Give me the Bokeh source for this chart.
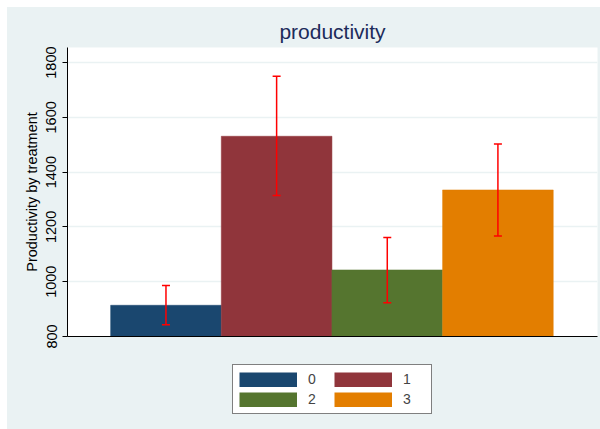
from bokeh.plotting import figure
from bokeh.layouts import column
from bokeh.models import (ColumnDataSource, Range1d, FixedTicker, Whisker, TeeHead,
                          Legend, LegendItem)
from bokeh.embed import file_html
from bokeh.resources import INLINE

# ---- data ----
treatment = ["0", "1", "2", "3"]
positions = [0, 1, 2, 3]
means = [914, 1531, 1043, 1335]
lower = [843, 1315, 923, 1167]
upper = [986, 1750, 1161, 1503]
colors = ["#1A476F", "#90353B", "#55752F", "#E37E00"]
y_ticks = [800, 1000, 1200, 1400, 1600, 1800]

BG = "#EAF2F3"
FONT = "Liberation Sans"

src = ColumnDataSource(dict(x=positions, top=means, lower=lower, upper=upper,
                            color=colors, label=treatment))

p = figure(width=593, height=343, output_backend="svg", toolbar_location=None,
           x_range=Range1d(-0.89, 3.9), y_range=Range1d(800, 1855),
           min_border_left=60, min_border_right=3, min_border_top=40,
           min_border_bottom=14)
p.background_fill_color = "white"
p.border_fill_color = BG
p.outline_line_color = None

p.vbar(x="x", top="top", bottom=800, width=1.0, fill_color="color",
       line_color="color", line_width=0.5, source=src)

wh = Whisker(source=src, base="x", upper="upper", lower="lower", dimension="height",
             line_color="#FF0000", line_width=1.5, level="overlay",
             upper_head=TeeHead(size=8, line_color="#FF0000", line_width=1.5),
             lower_head=TeeHead(size=8, line_color="#FF0000", line_width=1.5))
p.add_layout(wh)

# title
p.title.text = "productivity"
p.title.align = "center"
p.title.text_font = FONT
p.title.text_font_size = "21px"
p.title.text_font_style = "normal"
p.title.text_color = "#1C2B5A"

# axes
p.yaxis.ticker = FixedTicker(ticks=y_ticks)
p.yaxis.axis_label = "Productivity by treatment"
p.yaxis.axis_label_text_font = FONT
p.yaxis.axis_label_text_font_size = "14.5px"
p.yaxis.axis_label_text_font_style = "normal"
p.yaxis.axis_label_text_color = "black"
p.yaxis.axis_label_standoff = 4
p.yaxis.major_label_orientation = "vertical"
p.yaxis.major_label_text_font = FONT
p.yaxis.major_label_text_font_size = "14.5px"
p.yaxis.major_label_text_color = "black"
p.yaxis.major_label_standoff = 6
p.yaxis.axis_line_color = "black"
p.yaxis.major_tick_line_color = "black"
p.yaxis.major_tick_out = 5
p.yaxis.major_tick_in = 0
p.yaxis.minor_tick_line_color = None

p.xaxis.ticker = FixedTicker(ticks=[])
p.xaxis.axis_line_color = "black"
p.xaxis.major_tick_line_color = None
p.xaxis.minor_tick_line_color = None

p.xgrid.grid_line_color = None
p.ygrid.ticker = FixedTicker(ticks=y_ticks)
p.ygrid.grid_line_color = BG
p.ygrid.grid_line_width = 1.5

# ---- legend panel below the plot ----
leg = figure(width=593, height=79, output_backend="svg", toolbar_location=None,
             x_range=Range1d(0, 1), y_range=Range1d(0, 1),
             x_axis_type=None, y_axis_type=None,
             min_border_left=60, min_border_right=3, min_border_top=0,
             min_border_bottom=0)
leg.background_fill_color = BG
leg.border_fill_color = BG
leg.outline_line_color = None
leg.xgrid.visible = False
leg.ygrid.visible = False

renderers = {}
nan = float("nan")
for lab, col in zip(treatment, colors):
    renderers[lab] = leg.line(x=[nan], y=[nan], line_color=col, line_width=15,
                              line_cap="butt")
# legend fills column-wise: order so rows read "0 1" / "2 3"
order = [treatment[0], treatment[2], treatment[1], treatment[3]]
items = [LegendItem(label=lab, renderers=[renderers[lab]]) for lab in order]

legend = Legend(items=items, ncols=2, location="top_center",
                glyph_width=58, glyph_height=15, label_standoff=11, label_width=22,
                label_height=15, padding=6, spacing=4, margin=14,
                label_text_font=FONT, label_text_font_size="14px",
                label_text_baseline="middle",
                border_line_color="black", border_line_width=1,
                background_fill_color="white", background_fill_alpha=1.0)
leg.add_layout(legend)

layout = column(p, leg, spacing=0, margin=(7, 0, 0, 7),
                styles={"background-color": BG})
open("out.html", "w").write(file_html(layout, INLINE))
